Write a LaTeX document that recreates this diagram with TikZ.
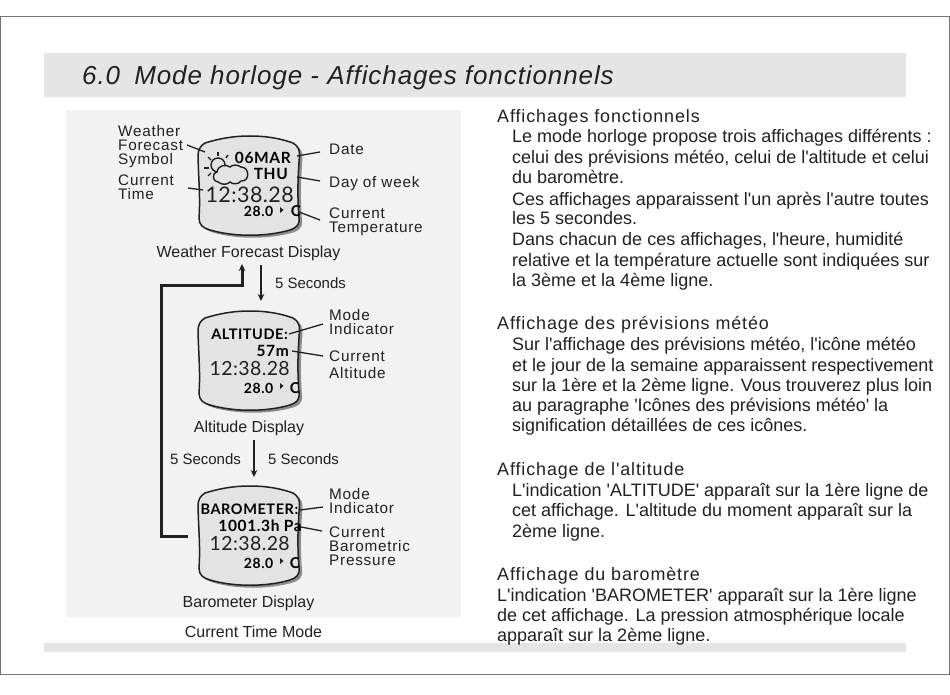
\documentclass[tikz,border=0pt]{standalone}
\usepackage{fontspec}
\setmainfont{Liberation Sans}
\newfontfamily\bodyface{Liberation Sans}
\newfontfamily\wideface[LetterSpace=5]{Liberation Sans}
\newfontfamily\titleface[LetterSpace=3.5]{Liberation Sans}
\newfontfamily\lcdface[LetterSpace=4]{Lato}
\newfontfamily\lightface[LetterSpace=2]{Lato}
\definecolor{ink}{gray}{0.13}
\usetikzlibrary{arrows.meta}
\tikzset{
 x=1pt,y=-1pt,
 bodyline/.style={anchor=base west,inner sep=0,text=ink,font=\bodyface\fontsize{18}{20}\selectfont},
 headline/.style={anchor=base west,inner sep=0,text=ink,font=\wideface\fontsize{17.9}{20}\selectfont},
 tag/.style={anchor=north west,inner sep=0,align=left,text=ink,font=\wideface\fontsize{15.3}{14}\selectfont},
 caption/.style={anchor=base,inner sep=0,text=ink,font=\bodyface\fontsize{16}{18}\selectfont},
 delay/.style={anchor=base,inner sep=0,text=ink,font=\bodyface\fontsize{15}{17}\selectfont},
 lcdhuge/.style={anchor=base east,inner sep=0,text=ink,font=\lightface\fontsize{21.5}{24}\selectfont},
 lcdbig/.style={anchor=base east,inner sep=0,text=ink,font=\lightface\fontsize{19.5}{24}\selectfont},
 lcdbold/.style={anchor=base east,inner sep=0,text=black,font=\lcdface\bfseries\fontsize{15.5}{18}\selectfont},
 lcdfit/.style={anchor=base east,inner sep=0,text=black,font=\lcdface\bfseries\fontsize{14.5}{18}\selectfont},
 lcdsmall/.style={anchor=base east,inner sep=0,text=black,font=\lcdface\bfseries\fontsize{14}{14}\selectfont},
 lcdunit/.style={anchor=base east,inner sep=0,text=black,font=\lcdface\bfseries\fontsize{15}{14}\selectfont},
 leader/.style={draw=ink,line width=1.3pt},
 flow/.style={draw=ink,line width=2.2pt,-{Stealth[length=7pt,width=6.5pt]}},
 loopline/.style={draw=ink,line width=3pt,-{Stealth[length=7pt,width=6.5pt]}},
}
\newcommand{\caseoutline}{%
   (250,136) .. controls (268,136) and (282,139) .. (293,143)
   .. controls (298,146) and (300,150) .. (299.5,156)
   .. controls (297.5,180) and (297.5,198) .. (299,218)
   .. controls (300,225) and (296,228) .. (290,230)
   .. controls (266,237) and (234,237) .. (210,230)
   .. controls (203,228) and (199,225) .. (199,218)
   .. controls (200.5,198) and (198.5,178) .. (198,156)
   .. controls (198,150) and (200,146) .. (205,143)
   .. controls (218,139) and (232,136) .. (250,136) -- cycle}
\newcommand{\watchcase}[1]{%
 \begin{scope}[yshift=-#1pt]
 \fill[black!45,xshift=3pt,yshift=-2.5pt] \caseoutline;
 \draw[fill=black!11,line width=1.5pt,draw=ink] \caseoutline;
 \end{scope}}
\begin{document}
\begin{tikzpicture}
\useasboundingbox (0,0) rectangle (950,695);
\fill[white] (0,0) rectangle (950,695);
\draw[gray!90!black,line width=1.2pt] (0.6,16.6) rectangle (949.4,674.4);
\fill[black!10] (44,53) rectangle (906,97);
\fill[black!5] (66,110) rectangle (461,617);
\fill[black!10] (44,643) rectangle (906,652);
\node[anchor=base west,inner sep=0,text=ink,font=\titleface\itshape\fontsize{26}{30}\selectfont] (title) at (82,85) {6.0\hspace{6pt} Mode horloge - Affichages fonctionnels};

% watches
\watchcase{0}
\watchcase{175}
\watchcase{350}

% display 1
\draw[ink,line width=1.4pt] (218,165) circle (7);
\draw[ink,line width=1.4pt,fill=black!11] (217,172) .. controls (212,172) and (212,182) .. (218,182)
  .. controls (222,185) and (227,185) .. (230,182) .. controls (233,185) and (239,184) .. (241,181)
  .. controls (250,182) and (250,167) .. (241,167) .. controls (237,164) and (232,165) .. (230,167)
  .. controls (226,164) and (218,165) .. (217,172) -- cycle;
\foreach \a/\b/\c/\d in {204/168/209/168, 208/157/211/160, 218/152/218/156, 228/155/226/158, 208/176/211/173}
  \draw[ink,line width=1.4pt] (\a,\b) -- (\c,\d);
\node[lcdbold] (w1a) at (291,164) {06MAR};
\node[lcdbold] (w1b) at (288,180) {THU};
\node[lcdhuge] (w1c) at (294,203) {12:38.28};
\node[lcdsmall] (w1d) at (273.5,217) {28.0};
\node[lcdunit] (w1e) at (301,217) {C};
\fill[ink] (280,207) -- (283.5,210) -- (280,213) -- cycle;

% display 2
\node[lcdfit] (w2a) at (288,339) {ALTITUDE:};
\node[lcdbold] (w2b) at (289,356) {57m};
\node[lcdbig] (w2c) at (290,375) {12:38.28};
\node[lcdsmall] (w2d) at (273.5,393) {28.0};
\node[lcdunit] (w2e) at (300,393) {C};
\fill[ink] (280,383) -- (283.5,386) -- (280,389) -- cycle;

% display 3
\node[lcdfit] (w3a) at (298.5,514) {BAROMETER:};
\node[lcdbold] (w3b) at (302,531) {1001.3h Pa};
\node[lcdbig] (w3c) at (290,550) {12:38.28};
\node[lcdsmall] (w3d) at (273.5,568) {28.0};
\node[lcdunit] (w3e) at (300,568) {C};
\fill[ink] (280,558) -- (283.5,561) -- (280,564) -- cycle;

% labels display 1
\node[tag] (l1) at (118,125.5) {Weather\\Forecast\\Symbol};
\node[tag] (l2) at (118,175) {Current\\Time};
\node[tag] (l3) at (329,144) {Date};
\node[tag] (l4) at (329,176.5) {Day of week};
\node[tag] (l5) at (329,208) {Current\\Temperature};
\node[caption] (c1) at (248.5,257) {Weather Forecast Display};
\coordinate (e1) at (205,152); \coordinate (s1) at (187,145);
\coordinate (e2) at (203,190); \coordinate (s2) at (188,188);
\coordinate (e3) at (297,156); \coordinate (s3) at (320,152);
\coordinate (e4) at (297,177); \coordinate (s4) at (320,181);
\coordinate (e5) at (299,212); \coordinate (s5) at (320,220);
\foreach \p/\q in {s1/e1,s2/e2,s3/e3,s4/e4,s5/e5} \draw[leader] (\p) -- (\q);

% labels display 2
\node[tag] (l6) at (329,309) {Mode\\Indicator};
\node[tag] (l7) at (329,351) {Current\\[3pt]Altitude};
\node[caption] (c2) at (249,432) {Altitude Display};
\coordinate (s6) at (323,324); \coordinate (e6) at (289,334);
\coordinate (s7) at (323,356); \coordinate (e7) at (292,351);
\foreach \p/\q in {s6/e6,s7/e7} \draw[leader] (\p) -- (\q);

% labels display 3
\node[tag] (l8) at (329,488) {Mode\\Indicator};
\node[tag] (l9) at (329,527) {Current\\Barometric\\Pressure};
\node[caption] (c3) at (248.5,607) {Barometer Display};
\node[caption] (c4) at (253.5,637) {Current Time Mode};
\coordinate (s8) at (323,507); \coordinate (e8) at (300,510);
\coordinate (s9) at (322,531); \coordinate (e9) at (301,527);
\foreach \p/\q in {s8/e8,s9/e9} \draw[leader] (\p) -- (\q);

% flow
\node[delay] (t1) at (310.5,288) {5 Seconds};
\node[delay] (t2) at (205.5,464) {5 Seconds};
\node[delay] (t3) at (303.5,464) {5 Seconds};
\coordinate (a1) at (261,265); \coordinate (a2) at (261,301);
\coordinate (b1) at (254,440); \coordinate (b2) at (254,477);
\coordinate (r0) at (188,536); \coordinate (r1) at (161,536); \coordinate (r2) at (161,285);
\coordinate (r3) at (242,285); \coordinate (r4) at (242,264);
\draw[flow] (a1) -- (a2);
\draw[flow] (b1) -- (b2);
\draw[loopline] (r0) -- (r1) -- (r2) -- (r3) -- (r4);

% body text
\node[headline] (h1) at (497,122.5) {Affichages fonctionnels};
\node[bodyline] (p1) at (512,143) {Le mode horloge propose trois affichages différents :};
\node[bodyline] (p2) at (512,164) {celui des prévisions météo, celui de l'altitude et celui};
\node[bodyline] (p3) at (512,184) {du baromètre.};
\node[bodyline] (p4) at (512,205) {Ces affichages apparaissent l'un après l'autre toutes};
\node[bodyline] (p5) at (512,224.5) {les 5 secondes.};
\node[bodyline] (p6) at (512,245.5) {Dans chacun de ces affichages, l'heure, humidité};
\node[bodyline] (p7) at (512,266.5) {relative et la température actuelle sont indiquées sur};
\node[bodyline] (p8) at (512,286) {la 3ème et la 4ème ligne.};
\node[headline] (h2) at (497,329) {Affichage des prévisions météo};
\node[bodyline] (q1) at (512,350) {Sur l'affichage des prévisions météo, l'icône météo};
\node[bodyline] (q2) at (512,371) {et le jour de la semaine apparaissent respectivement};
\node[bodyline] (q3) at (512,391) {sur la 1ère et la 2ème ligne. Vous trouverez plus loin};
\node[bodyline] (q4) at (512,411) {au paragraphe 'Icônes des prévisions météo' la};
\node[bodyline] (q5) at (512,431) {signification détaillées de ces icônes.};
\node[headline] (h3) at (497,475) {Affichage de l'altitude};
\node[bodyline] (r1t) at (512,496) {L'indication 'ALTITUDE' apparaît sur la 1ère ligne de};
\node[bodyline] (r2t) at (512,516) {cet affichage. L'altitude du moment apparaît sur la};
\node[bodyline] (r3t) at (512,537) {2ème ligne.};
\node[headline] (h4) at (497,580) {Affichage du baromètre};
\node[bodyline] (u1) at (497,601) {L'indication 'BAROMETER' apparaît sur la 1ère ligne};
\node[bodyline] (u2) at (497,621) {de cet affichage. La pression atmosphérique locale};
\node[bodyline] (u3) at (497,641) {apparaît sur la 2ème ligne.};
\end{tikzpicture}
\end{document}
